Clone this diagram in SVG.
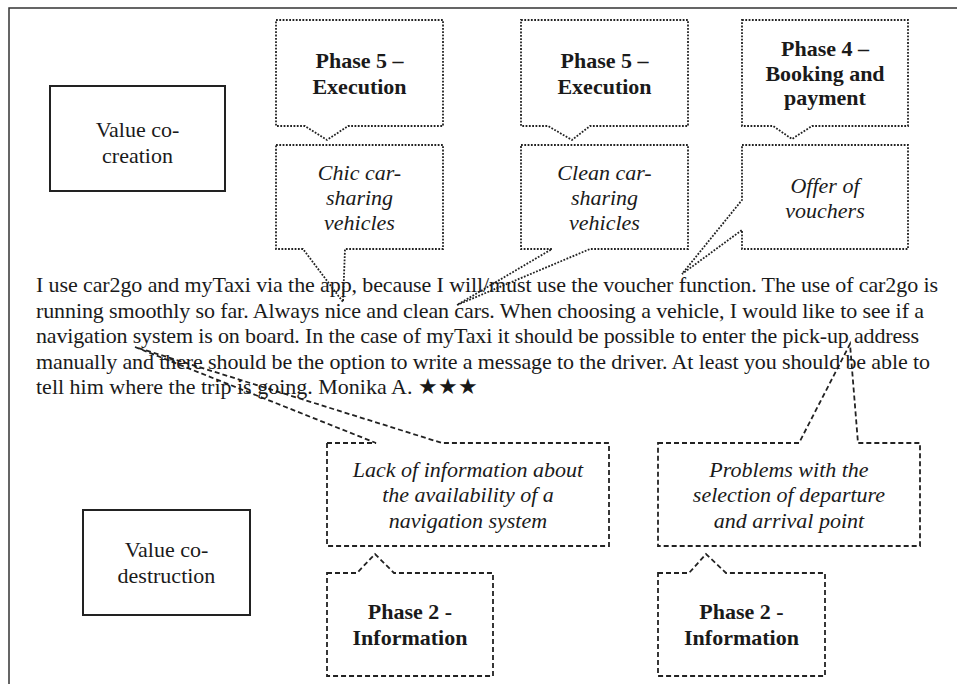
<svg xmlns="http://www.w3.org/2000/svg" width="957" height="684" viewBox="0 0 957 684">
<style>
text{font-family:"Liberation Serif","Times New Roman","DejaVu Serif",serif;fill:#1a1a1a;font-size:22px}
.c{text-anchor:middle}
.b{font-weight:bold}
.i{font-style:italic}
.dot{fill:none;stroke:#222;stroke-width:1.8;stroke-dasharray:1.8 1.5}
.dash{fill:none;stroke:#222;stroke-width:1.8;stroke-dasharray:5 3}
.solid{fill:#fff;stroke:#222;stroke-width:2}
</style>
<rect x="9" y="8" width="970" height="700" fill="#fff" stroke="#333" stroke-width="1.5"/>
<g id="value-co-creation">
<rect class="solid" x="50" y="86" width="175" height="105"/>
<text class="c" x="137.5" y="137">Value co-</text>
<text class="c" x="137.5" y="163">creation</text>
</g>
<g id="value-co-destruction">
<rect class="solid" x="83" y="510" width="167" height="105"/>
<text class="c" x="166.5" y="557">Value co-</text>
<text class="c" x="166.5" y="583">destruction</text>
</g>
<g id="phase5-a">
<path class="dot" d="M276,20 H443 V126 H348 L327,140 L305,126 H276 Z"/>
<text class="c b" x="359.5" y="68">Phase 5 –</text>
<text class="c b" x="359.5" y="94">Execution</text>
</g>
<g id="chic">
<path class="dot" d="M276,145 H443 V249 H345 L343,302 L303,249 H276 Z"/>
<text class="c i" x="359.5" y="180">Chic car-</text>
<text class="c i" x="359.5" y="205">sharing</text>
<text class="c i" x="359.5" y="230">vehicles</text>
</g>
<g id="phase5-b">
<path class="dot" d="M521,20 H688 V126 H590 L572,140 L548,126 H521 Z"/>
<text class="c b" x="604.5" y="68">Phase 5 –</text>
<text class="c b" x="604.5" y="94">Execution</text>
</g>
<g id="clean">
<path class="dot" d="M521,145 H688 V249 H590 L457,305 L552,249 H521 Z"/>
<text class="c i" x="604.5" y="180">Clean car-</text>
<text class="c i" x="604.5" y="205">sharing</text>
<text class="c i" x="604.5" y="230">vehicles</text>
</g>
<g id="phase4">
<path class="dot" d="M742,20 H908 V126 H812 L792,139 L773,126 H742 Z"/>
<text class="c b" x="825" y="56">Phase 4 –</text>
<text class="c b" x="825" y="81">Booking and</text>
<text class="c b" x="825" y="105">payment</text>
</g>
<g id="vouchers">
<path class="dot" d="M742,145 H908 V249 H742 V230 L682,274 L742,200 Z"/>
<text class="c i" x="825" y="193">Offer of</text>
<text class="c i" x="825" y="218">vouchers</text>
</g>
<g id="lack-info">
<path class="dash" d="M327,443 H376 L135,347 L442,443 H609 V546 H327 Z"/>
<text class="c i" x="468" y="477">Lack of information about</text>
<text class="c i" x="468" y="502">the availability of a</text>
<text class="c i" x="468" y="528">navigation system</text>
</g>
<g id="problems">
<path class="dash" d="M658,443 H799 L850,344 L858,443 H920 V546 H658 Z"/>
<text class="c i" x="789" y="477">Problems with the</text>
<text class="c i" x="789" y="502">selection of departure</text>
<text class="c i" x="789" y="528">and arrival point</text>
</g>
<g id="phase2-a">
<path class="dash" d="M327,573 H357 L375,554 L394,573 H493 V676 H327 Z"/>
<text class="c b" x="410" y="619">Phase 2 -</text>
<text class="c b" x="410" y="645">Information</text>
</g>
<g id="phase2-b">
<path class="dash" d="M658,573 H689 L706,554 L726,573 H825 V676 H658 Z"/>
<text class="c b" x="741.5" y="619">Phase 2 -</text>
<text class="c b" x="741.5" y="645">Information</text>
</g>
<g id="review">
<text x="36" y="292" textLength="902" lengthAdjust="spacing">I use car2go and myTaxi  via the app, because I will/must use the voucher function. The use of car2go is</text>
<text x="36" y="317.5" textLength="888" lengthAdjust="spacing">running smoothly so far. Always  nice and clean cars. When  choosing a vehicle, I would like to see if a</text>
<text x="36" y="343" textLength="883" lengthAdjust="spacing">navigation system is on board. In the case of myTaxi  it should be possible to enter the pick-up address</text>
<text x="36" y="368.5" textLength="894" lengthAdjust="spacing">manually and there should be the option to write a message to the driver. At least you should be able to</text>
<text x="36" y="394">tell him where the trip is going. Monika A. ★★★</text>
</g>
<g id="connectors"></g>
</svg>
